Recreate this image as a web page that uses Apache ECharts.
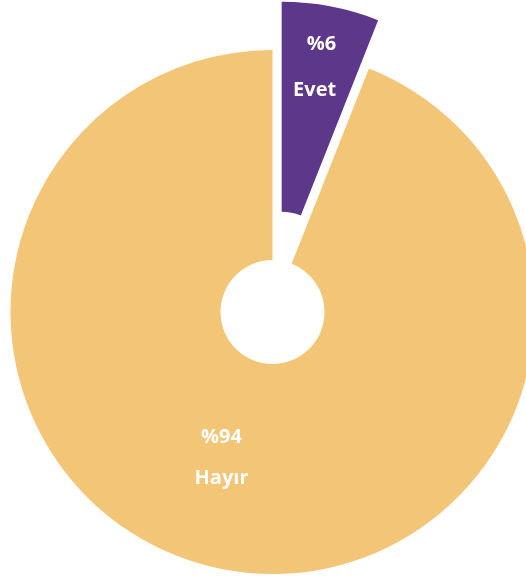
<!DOCTYPE html>
<html>
<head>
<meta charset="utf-8">
<style>
  html, body { margin: 0; padding: 0; background: #ffffff; }
  #chart { width: 526px; height: 579px; }
</style>
<script src="https://cdn.jsdelivr.net/npm/echarts@6/dist/echarts.min.js"></script>
</head>
<body>
<div id="chart"></div>
<script>
// Answer categories and their shares (percent)
const categories = ['Evet', 'Hayır'];
const shares = [6, 94];
const colors = ['#5D378A', '#F2C577'];

const chart = echarts.init(document.getElementById('chart'), null, { renderer: 'canvas' });

// Label placement nudges per slice
const labelOffsets = [[3, -39], [-21, -11]];
const labelAlign = ['right', 'center'];
const lineGap = [46, 41];

const textStyle = (i) => ({
  fontSize: 20, fontWeight: 'bold', color: '#fff',
  fontFamily: '"Open Sans", sans-serif', lineHeight: lineGap[i], align: labelAlign[i]
});

const labelFor = (i) => ({
  offset: labelOffsets[i],
  fontSize: 20,
  fontWeight: 'bold',
  fontFamily: '"Open Sans", sans-serif',
  lineHeight: lineGap[i],
  rich: { v: textStyle(i), n: textStyle(i) }
});

const data = categories.map((name, i) => ({
  name: name,
  value: shares[i],
  selected: i === 0,
  itemStyle: { color: colors[i] },
  label: labelFor(i),
  select: { label: labelFor(i), itemStyle: { color: colors[i] } }
}));

chart.setOption({
  animation: false,
  backgroundColor: '#ffffff',
  series: [{
    type: 'pie',
    center: [272.5, 312],
    radius: [52, 262],
    startAngle: 90,
    clockwise: true,
    selectedMode: 'single',
    selectedOffset: 49,
    avoidLabelOverlap: false,
    emphasis: { disabled: true },
    label: {
      show: true,
      position: 'inside',
      color: '#fff',
      formatter: p => '{v|%' + p.value + '}\n{n|' + p.name + '}'
    },
    labelLine: { show: false },
    data: data
  }]
});
</script>
</body>
</html>
